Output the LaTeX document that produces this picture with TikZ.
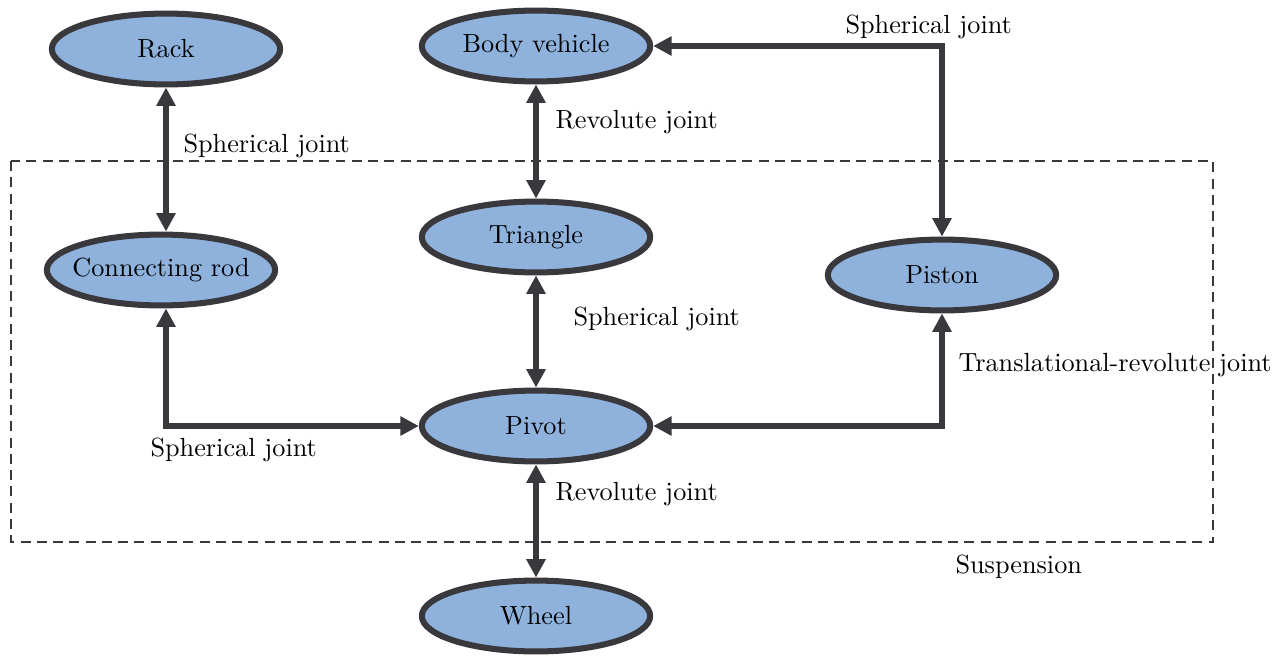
\documentclass[tikz,border=0pt]{standalone}
\usetikzlibrary{shapes.geometric,arrows.meta}
\definecolor{fillblue}{HTML}{8FB2DD}
\definecolor{edge}{HTML}{38383D}
\tikzset{
  part/.style={ellipse, draw=edge, line width=2.3pt, fill=fillblue, minimum width=87pt, minimum height=27pt, inner sep=0pt, font=\normalsize},
  link/.style={draw=edge, line width=2.1pt, {Triangle[length=7pt,width=7pt]}-{Triangle[length=7pt,width=7pt]}},
  lbl/.style={anchor=west, inner sep=0pt, font=\normalsize},
  box/.style={draw=edge, line width=0.9pt, dash pattern=on 3.8pt off 2.4pt}
}
\newcommand{\pt}[1]{\makebox[0pt]{#1}}
\begin{document}
\begin{tikzpicture}[x=0.381pt, y=-0.381pt]
\useasboundingbox (0,0) rectangle (1287,657);
\draw[box] (11,161) rectangle (1213,542);
\node[part] (rk) at (166,49) {\pt{Rack}};
\node[part] (bv) at (536,46) {\pt{Body vehicle}};
\node[part] (tr) at (536,237) {\pt{Triangle}};
\node[part] (cr) at (161,270) {\pt{Connecting rod}};
\node[part] (ps) at (942,275) {\pt{Piston}};
\node[part] (pv) at (536,426) {\pt{Pivot}};
\node[part] (wh) at (536,616) {\pt{Wheel}};
\draw[link] (rk.south) -- (rk.south |- cr.north);
\draw[link] (bv.south) -- (tr.north);
\draw[link] (tr.south) -- (pv.north);
\draw[link] (pv.south) -- (wh.north);
\draw[link] (rk.south |- cr.south) |- (pv.west);
\draw[link] (ps.south) |- (pv.east);
\draw[link] (bv.east) -| (ps.north);
\node[lbl] (l1) at (845,27) {Spherical joint};
\node[lbl] (l2) at (555,122) {Revolute joint};
\node[lbl] (l3) at (183,146) {Spherical joint};
\node[lbl] (l4) at (573,319) {Spherical joint};
\node[lbl] (l5) at (958,365) {Translational-revolute joint};
\node[lbl] (l6) at (150,450) {Spherical joint};
\node[lbl] (l7) at (555,494) {Revolute joint};
\node[lbl] (l8) at (955,567) {Suspension};
\end{tikzpicture}
\end{document}
